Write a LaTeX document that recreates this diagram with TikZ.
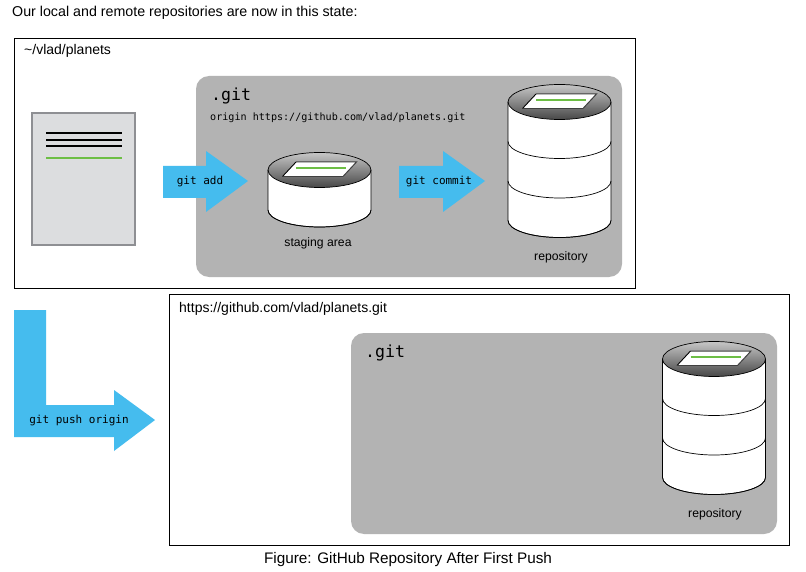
\documentclass[tikz,border=0pt]{standalone}
\usepackage{fontspec}
\setmainfont{Liberation Sans}
\setmonofont{DejaVu Sans Mono}
\usetikzlibrary{shapes}
\usetikzlibrary{arrows}

\definecolor{arrowblue}{HTML}{45BCEE}
\definecolor{gitgray}{HTML}{B3B3B3}
\definecolor{pagegray}{HTML}{DCDDDF}
\definecolor{pageedge}{HTML}{8E8F93}
\definecolor{linegreen}{HTML}{6DBE45}

% one disk stack, top left corner of the body at (#1,#2), #3 = height of a layer
\newcommand{\diskstack}[4]{
	\fill[white] (#1,#2) -- ++(0,#3*#4) arc[start angle=180,end angle=0,x radius=51.5,y radius=17] -- ++(0,-#3*#4) -- cycle;
	\shade[top color=black!22,bottom color=black!72] (#1+51.5,#2) ellipse[x radius=51.5,y radius=17.5];
	\draw[diskline] (#1+51.5,#2) ellipse[x radius=51.5,y radius=17.5];
	\draw[diskline] (#1,#2) -- ++(0,#3*#4) arc[start angle=180,end angle=0,x radius=51.5,y radius=17] -- ++(0,-#3*#4);
	\foreach \layer in {1,...,#3} {
		\draw[diskline] (#1,#2+\layer*#4) arc[start angle=180,end angle=0,x radius=51.5,y radius=17];
	}
	\fill[white] (#1+14.5,#2+6.5) -- (#1+28,#2-8) -- (#1+88.5,#2-8) -- (#1+75,#2+6.5) -- cycle;
	\draw[black!75,line width=1pt] (#1+28,#2-8) -- (#1+88.5,#2-8) -- (#1+75,#2+6.5);
	\draw[black,line width=.9pt] (#1+28,#2-8) -- (#1+14.5,#2+6.5);
	\draw[black!75,line width=1.4pt] (#1+14.5,#2+6.5) -- (#1+75,#2+6.5);
	\draw[linegreen,line width=1.6pt] (#1+28,#2-2) -- (#1+78,#2-2);
}

\begin{document}
\begin{tikzpicture}[x=1pt,y=-1pt]
	\tikzstyle{sanslabel}=[inner sep=0pt,font=\fontsize{14}{16}\selectfont]
	\tikzstyle{disklabel}=[inner sep=0pt,font=\fontsize{12.2}{14}\selectfont]
	\tikzstyle{monolabel}=[inner sep=0pt,font=\ttfamily\fontsize{11}{13}\selectfont]
	\tikzstyle{originlabel}=[inner sep=0pt,font=\ttfamily\fontsize{10.1}{12}\selectfont]
	\tikzstyle{gitlabel}=[inner sep=0pt,font=\ttfamily\fontsize{16.6}{18}\selectfont]
	\tikzstyle{framebox}=[draw=black,line width=.9pt]
	\tikzstyle{gitbox}=[fill=gitgray,rounded corners=13pt]
	\tikzstyle{bigarrow}=[fill=arrowblue]
	\tikzstyle{diskline}=[draw=black,line width=.7pt]

	\useasboundingbox (0,0) rectangle (806,572);
	\fill[white] (0,0) rectangle (806,572);

	\node[sanslabel,anchor=west,font=\fontsize{14.25}{16}\selectfont] (title) at (12,12.5) {Our local and remote repositories are now in this state:};

	% local
	\draw[framebox] (14.5,38.5) rectangle (635.5,288.5);
	\node[sanslabel,anchor=west] (localpath) at (24,51) {\textasciitilde/vlad/planets};
	\fill[gitbox] (196,76) rectangle (622,277);
	\node[gitlabel,anchor=west] (localgit) at (211,95.5) {.git};
	\node[originlabel,anchor=west] (origin) at (210,118) {origin https://github.com/vlad/planets.git};

	\draw[fill=pagegray,draw=pageedge,line width=2pt] (32,113) rectangle (135,245);
	\foreach \y in {133,140,146} {
		\draw[black,line width=1.4pt] (46,\y) -- (122,\y);
	}
	\draw[linegreen,line width=1.6pt] (46,158) -- (122,158);

	\fill[bigarrow] (163,166) -- (206,166) -- (206,151) -- (248,181) -- (206,212) -- (206,198) -- (163,198) -- cycle;
	\node[monolabel] (gitadd) at (200,182) {git add};

	\diskstack{268}{170}{1}{40}
	\node[disklabel] (staging) at (318,243) {staging area};

	\fill[bigarrow] (399,166) -- (443,166) -- (443,151) -- (485,181) -- (443,212) -- (443,198) -- (399,198) -- cycle;
	\node[monolabel] (gitcommit) at (439,182) {git commit};

	\diskstack{508}{102}{3}{39.5}
	\node[disklabel] (localrepo) at (561,257) {repository};

	% push
	\fill[bigarrow] (14,310) -- (46,310) -- (46,405) -- (114,405) -- (114,390) -- (155,420) -- (114,451) -- (114,437) -- (14,437) -- cycle;
	\node[monolabel] (gitpush) at (79,420.5) {git push origin};

	% remote
	\draw[framebox] (169.5,294.5) rectangle (789.5,545.5);
	\node[sanslabel,anchor=west] (remotepath) at (179,309) {https://github.com/vlad/planets.git};
	\fill[gitbox] (351,333) rectangle (777,534);
	\node[gitlabel,anchor=west] (remotegit) at (365,352.5) {.git};

	\diskstack{662.5}{359}{3}{39.5}
	\node[disklabel] (remoterepo) at (715,514) {repository};

	\node[sanslabel,font=\fontsize{15.3}{17}\selectfont] (caption) at (408,559.5) {Figure: GitHub Repository After First Push};
\end{tikzpicture}
\end{document}
